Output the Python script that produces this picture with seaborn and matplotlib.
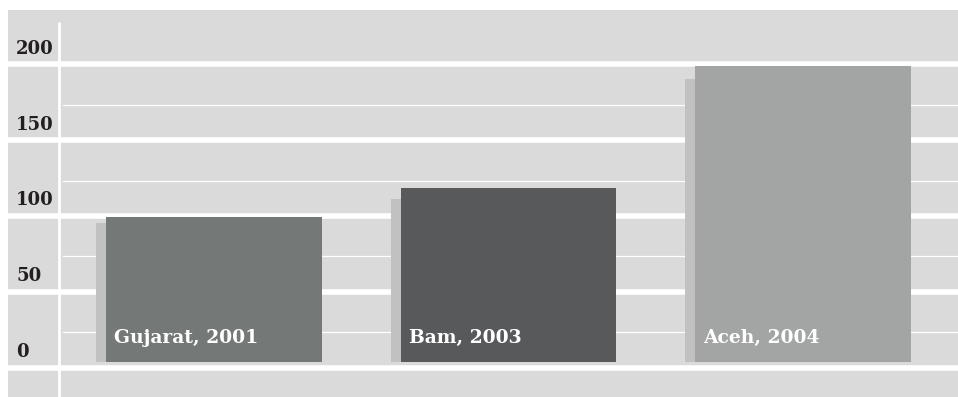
import matplotlib
matplotlib.use("Agg")
import matplotlib.pyplot as plt
import seaborn as sns
import pandas as pd

# ---- data ----
categories = ["Gujarat, 2001", "Bam, 2003", "Aceh, 2004"]
values = [99.3, 118.5, 199.0]          # main bars
shadow_values = [95.4, 111.2, 190.4]   # offset shadow bars
major_ticks = [0, 50, 100, 150, 200]
minor_ticks = [25, 75, 125, 175]
tick_labels = ["0", "50", "100", "150", "200"]

# ---- style ----
BG = "#dadada"
bar_colors = ["#737a78", "#58595b", "#a3a5a4"]
SHADOW = "#c0c1c0"
BAR_GAP = 3.6        # gap between zero line and bar bottom (data units)
SHADOW_DX = 0.034    # shadow shift to the left (category units)
MINOR_SHIFT = -1.6
BAR_W = 0.733

sns.set_theme(style="white")
plt.rcParams["font.family"] = ["DejaVu Serif", "DejaVu Sans"]

fig = plt.figure(figsize=(9.58, 3.97), dpi=100)
fig.patch.set_facecolor("white")
ax = fig.add_axes([8 / 958, 0, 950 / 958, 387 / 397])
ax.set_facecolor(BG)

df = pd.DataFrame({"cat": categories,
                   "h": [v - BAR_GAP for v in values],
                   "sh": [v - BAR_GAP for v in shadow_values]})

# grid lines
for t in major_ticks:
    ax.axhline(t, color="white", lw=4.0, zorder=1)
for t in minor_ticks:
    ax.axhline(t + MINOR_SHIFT, xmin=55 / 950, xmax=1, color="white", lw=0.9, zorder=1)
ax.plot([51 / 950, 51 / 950], [0, 375 / 387], transform=ax.transAxes,
        color="white", lw=2.0, zorder=1, solid_capstyle="butt")

# shadow bars
sns.barplot(data=df, x="cat", y="sh", order=categories, color=SHADOW,
            width=BAR_W, bottom=BAR_GAP, ax=ax, zorder=2, linewidth=0,
            errorbar=None)
n_sh = len(ax.patches)
for p in ax.patches:
    p.set_x(p.get_x() - SHADOW_DX)

# main bars
sns.barplot(data=df, x="cat", y="h", order=categories, hue="cat",
            palette=bar_colors, legend=False, width=BAR_W, bottom=BAR_GAP,
            ax=ax, zorder=3, linewidth=0, errorbar=None)
main_patches = ax.patches[n_sh:]

for p, lab in zip(main_patches, categories):
    ax.annotate(lab, xy=(p.get_x(), 0), xytext=(5.8, 17.8),
                textcoords="offset points", ha="left", va="baseline",
                color="white", fontsize=13.5, fontweight="bold", zorder=4)

# y labels
for t, lab in zip(major_ticks, tick_labels):
    ax.annotate(lab, xy=(0, t), xycoords=("axes fraction", "data"),
                xytext=(5.8, 7.6), textcoords="offset points",
                ha="left", va="baseline", color="#231f20",
                fontsize=13, fontweight="bold", zorder=4)

ax.set_xlim(-0.6995, 2.526)
ax.set_ylim(-19.47, 235.97)
ax.set_xticks([])
ax.set_yticks([])
ax.set_xlabel("")
ax.set_ylabel("")
for s in ax.spines.values():
    s.set_visible(False)

fig.savefig("out.png", dpi=100, facecolor="white")
